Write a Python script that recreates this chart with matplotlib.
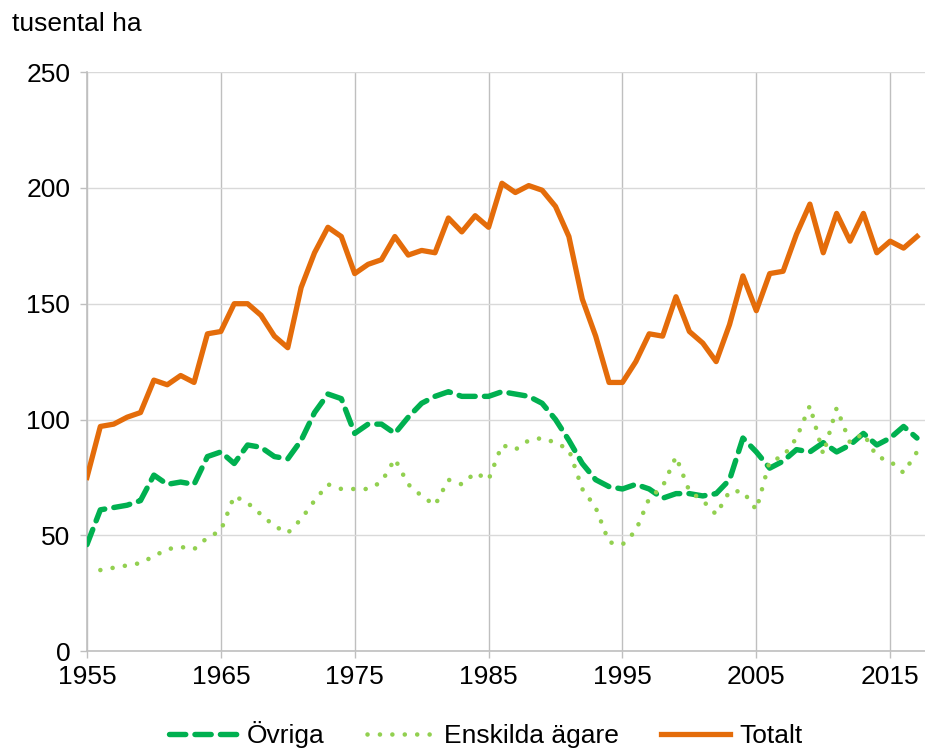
import matplotlib.pyplot as plt

plt.rcParams['font.family'] = ['Liberation Sans', 'DejaVu Sans']

# ----------------------------------------------------------------
# data (tusental ha)
# ----------------------------------------------------------------
years = list(range(1955, 2018))

totalt = [75, 97, 98, 101, 103, 117, 115, 119, 116, 137,
          138, 150, 150, 145, 136, 131, 157, 172, 183, 179,
          163, 167, 169, 179, 171, 173, 172, 187, 181, 188,
          183, 202, 198, 201, 199, 192, 179, 152, 136, 116,
          116, 125, 137, 136, 153, 138, 133, 125, 141, 162,
          147, 163, 164, 180, 193, 172, 189, 177, 189, 172,
          177, 174, 179]

ovriga = [46, 61, 62, 63, 65, 76, 72, 73, 72, 84,
          86, 81, 89, 88, 84, 83, 91, 103, 111, 109,
          94, 98, 98, 94, 101, 107, 110, 112, 110, 110,
          110, 112, 111, 110, 107, 100, 91, 81, 74, 71,
          70, 72, 70, 66, 68, 68, 67, 68, 74, 92,
          86, 79, 82, 87, 86, 90, 86, 89, 94, 89,
          92, 97, 92]

# Enskilda ägare starts in 1956
ensk_years = list(range(1956, 2018))
enskilda = [35, 36, 37, 38, 41, 44, 45, 44, 49,
            52, 67, 64, 59, 54, 51, 57, 65, 72, 70,
            70, 70, 73, 83, 72, 67, 63, 74, 72, 77,
            74, 89, 87, 91, 92, 90, 87, 70, 62, 47,
            46, 52, 66, 71, 84, 69, 65, 59, 69, 69,
            61, 82, 84, 92, 106, 85, 105, 90, 94, 84,
            82, 77, 86]

c_total = '#E46C0A'
c_ovr = '#00B050'
c_ensk = '#92D050'

fig = plt.figure(figsize=(9.25, 7.51), dpi=100)
ax = fig.add_axes([0.094, 0.133, 0.906, 0.771])

ax.plot(years, ovriga, color=c_ovr, lw=3.9, dashes=(3.0, 1.7),
        dash_capstyle='round', label='Övriga', zorder=3)
ax.plot(ensk_years, enskilda, color=c_ensk, lw=3.3, dashes=(0.01, 2.7),
        dash_capstyle='round', label='Enskilda ägare', zorder=3)
ax.plot(years, totalt, color=c_total, lw=3.8, solid_joinstyle='round',
        label='Totalt', zorder=4)

ax.set_xlim(1955, 2017.6)
ax.set_ylim(0, 250)
ax.set_xticks(range(1955, 2016, 10))
ax.set_yticks(range(0, 251, 50))

ax.grid(axis='y', color='#D9D9D9', lw=1)
ax.grid(axis='x', color='#BFBFBF', lw=1)
ax.set_axisbelow(True)

for s in ['top', 'right']:
    ax.spines[s].set_visible(False)
for s in ['left', 'bottom']:
    ax.spines[s].set_color('#BFBFBF')
    ax.spines[s].set_linewidth(1.2)

ax.tick_params(axis='both', labelsize=19, colors='#BFBFBF',
               labelcolor='black', length=5, width=1)
ax.tick_params(axis='y', pad=7)
ax.tick_params(axis='x', pad=5)

fig.text(0.013, 0.968, 'tusental ha', fontsize=19, va='center', ha='left')

fig.legend(loc='center', bbox_to_anchor=(0.525, 0.022), ncol=3,
           frameon=False, fontsize=19, handlelength=2.6,
           columnspacing=1.6, handletextpad=0.35)

fig.savefig('out.png', dpi=100)
